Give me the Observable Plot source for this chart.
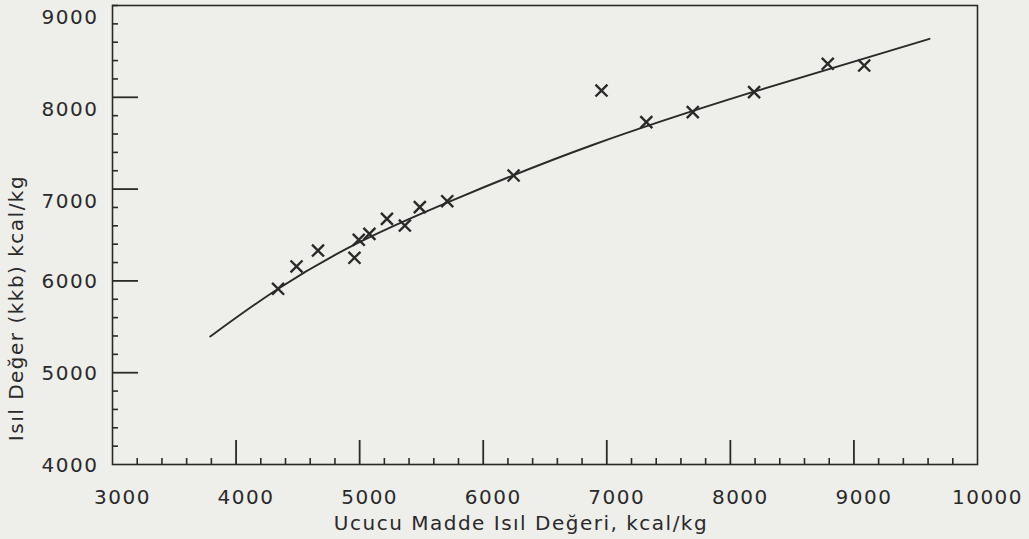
<!DOCTYPE html>
<html>
<head>
<meta charset="utf-8">
<script src="https://cdn.jsdelivr.net/npm/d3@7"></script>
<script src="https://cdn.jsdelivr.net/npm/@observablehq/plot@0.6"></script>
<style>
  html, body { margin: 0; padding: 0; background: #eeeeea; }
  #chart svg { display: block; letter-spacing: 1.5px; }
</style>
</head>
<body>
<div id="chart"></div>
<script>
// Measured points (volatile matter heating value vs heating value)
const pointX = [4340, 4489, 4663, 4958, 4993, 5079, 5221, 5366, 5487, 5709, 6246, 6957, 7320, 7696, 8192, 8788, 9083];
const pointY = [5914, 6157, 6331, 6252, 6448, 6513, 6676, 6603, 6803, 6868, 7148, 8074, 7729, 7838, 8056, 8365, 8346];

// Fitted curve
const curveX = [3791, 4338, 4998, 5804, 6874, 8178, 9612];
const curveY = [5394, 5912, 6422, 6908, 7475, 8056, 8637];

// Tick values
const xMajor = [4000, 5000, 6000, 7000, 8000, 9000];
const xMinor = d3.range(3200, 10000, 200).filter(v => v % 1000 !== 0);
const xLabels = [3000, 4000, 5000, 6000, 7000, 8000, 9000, 10000];
const yMajor = [5000, 6000, 7000, 8000];
const yMinor = d3.range(4200, 9001, 200).filter(v => v % 1000 !== 0 || v === 9000);
const yLabelsLow = [4000, 5000, 6000];
const yLabelsHigh = [7000, 8000, 9000];

const xTitle = "Ucucu Madde Isıl Değeri, kcal/kg";
const yTitle = "Isıl Değer (kkb) kcal/kg";

const points = pointX.map((x, i) => ({x, y: pointY[i]}));
const curve = curveX.map((x, i) => ({x, y: curveY[i]}));

const W = 1029, H = 539;
const mL = 112, mR = 52, mT = 5, mB = 75;
const innerW = W - mL - mR, innerH = H - mT - mB;
const ink = "#2a2a2a";
const font = "DejaVu Sans, Verdana, sans-serif";

const chart = Plot.plot({
  width: W,
  height: H,
  marginLeft: mL,
  marginRight: mR,
  marginTop: mT,
  marginBottom: mB,
  style: {background: "#eeeeea", fontFamily: font, fontSize: "20px", color: ink},
  x: {domain: [3000, 10000], axis: null},
  y: {domain: [4000, 9000], axis: null},
  marks: [
    Plot.frame({stroke: ink, strokeWidth: 1.6}),
    // inward ticks on x axis
    Plot.tickX(xMajor, {x: d => d, stroke: ink, strokeWidth: 1.8, insetTop: innerH - 24}),
    Plot.tickX(xMinor, {x: d => d, stroke: ink, strokeWidth: 1.6, insetTop: innerH - 6}),
    // inward ticks on y axis
    Plot.tickY(yMajor, {y: d => d, stroke: ink, strokeWidth: 1.8, insetRight: innerW - 26}),
    Plot.tickY(yMinor, {y: d => d, stroke: ink, strokeWidth: 1.6, insetRight: innerW - 6}),
    // tick labels
    Plot.axisX({ticks: xLabels, tickSize: 0, tickPadding: 25, dx: 10, tickFormat: d => String(d), fontSize: 20, fill: ink, label: null}),
    Plot.axisY({ticks: yLabelsLow, tickSize: 0, tickPadding: 14, dy: 1, tickFormat: d => String(d), fontSize: 20, fill: ink, label: null}),
    Plot.axisY({ticks: yLabelsHigh, tickSize: 0, tickPadding: 14, dy: 12, tickFormat: d => String(d), fontSize: 20, fill: ink, label: null}),
    // curve and points
    Plot.line(curve, {x: "x", y: "y", curve: "natural", stroke: ink, strokeWidth: 1.9}),
    Plot.dot(points, {x: "x", y: "y", symbol: "times", r: 5.5, stroke: ink, strokeWidth: 2.4}),
    // axis titles
    Plot.text([xTitle], {text: d => d, frameAnchor: "bottom", dy: 59, dx: -24, fontSize: 20, fill: ink, textAnchor: "middle", lineAnchor: "middle"}),
    Plot.text([yTitle], {text: d => d, frameAnchor: "left", dx: -96, dy: 73, rotate: -90, fontSize: 20, fill: ink, textAnchor: "middle", lineAnchor: "middle"})
  ]
});

document.getElementById("chart").append(chart);
</script>
</body>
</html>
